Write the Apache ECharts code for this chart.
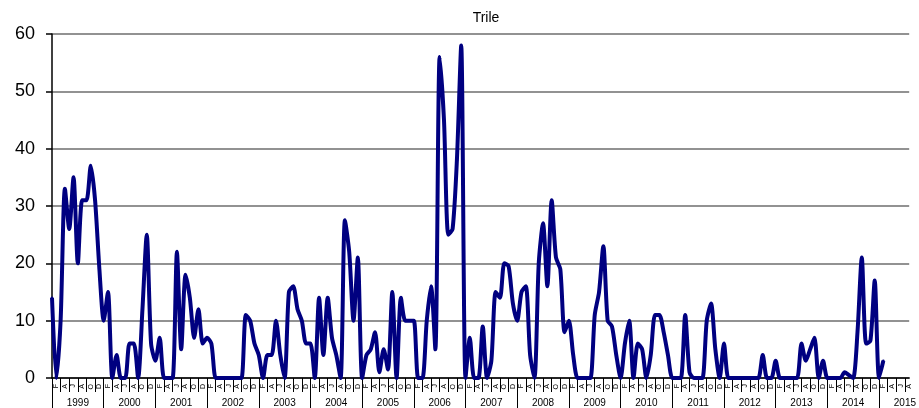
<!DOCTYPE html>
<html>
<head>
<meta charset="utf-8">
<script src="https://cdn.jsdelivr.net/npm/echarts@6/dist/echarts.min.js"></script>
<style>
html,body{margin:0;padding:0;background:#fff;}
#chart{width:919px;height:408px;}
</style>
</head>
<body>
<div id="chart"></div>
<script>
var title = 'Trile';
var years = [1999,2000,2001,2002,2003,2004,2005,2006,2007,2008,2009,2010,2011,2012,2013,2014,2015];
var monthLetters = ['J','F','M','A','M','J','J','A','S','O','N','D'];
var monthsShownIn2015 = 8;
var yTicks = [0,10,20,30,40,50,60];

var v1999 = [14,0,10,33,26,35,20,31,31,37,31,19];
var v2000 = [10,15,0,4,0,0,6,6,0,12,25,6];
var v2001 = [3,7,0,0,0,22,5,18,14,7,12,6];
var v2002 = [7,6,0,0,0,0,0,0,0,11,10,6];
var v2003 = [4,0,4,4,10,4,0,15,16,12,10,6];
var v2004 = [6,0,14,4,14,7,4,0,27.5,22,10,21];
var v2005 = [0,4,5,8,1,5,1.5,15,0,14,10,10];
var v2006 = [10,0,0,10,16,5,56,45,25,26,38,58];
var v2007 = [0,7,0,0,9,0,3,15,14,20,19.5,13];
var v2008 = [10,15,16,4,0,20,27,16,31,21,19,8];
var v2009 = [10,4,0,0,0,0,11,15,23,10,9,4];
var v2010 = [0,6,10,0,6,5,0,4,11,11,8,4];
var v2011 = [0,0,0,11,1,0,0,0,10,13,5,0];
var v2012 = [6,0,0,0,0,0,0,0,0,4,0,0];
var v2013 = [3,0,0,0,0,0,6,3,5,7,0,3];
var v2014 = [0,0,0,0,1,0.5,0,8,21,6,6.5,17];
var v2015 = [0,3];

var yearValues = [v1999,v2000,v2001,v2002,v2003,v2004,v2005,v2006,v2007,v2008,v2009,v2010,v2011,v2012,v2013,v2014,v2015];

var categories = [];
var yearOf = [];
var values = [];
years.forEach(function(y, yi){
  var n = (yi === years.length - 1) ? monthsShownIn2015 : 12;
  for (var m = 0; m < n; m++) {
    categories.push(monthLetters[m]);
    yearOf.push(String(y));
    var arr = yearValues[yi];
    values.push(m < arr.length ? arr[m] : null);
  }
});

var chart = echarts.init(document.getElementById('chart'), null, {renderer:'canvas'});
var font = 'Liberation Sans, Arial, sans-serif';
chart.setOption({
  animation: false,
  title: {
    text: title, left: 481, top: 6, textAlign: 'center',
    textStyle: {fontSize: 14, fontWeight: 'normal', color: '#000', fontFamily: font}
  },
  grid: {left: 52, right: 7, top: 34, bottom: 30, containLabel: false},
  xAxis: [
    {
      type: 'category', data: categories, boundaryGap: false, position: 'bottom',
      axisLine: {show: true, lineStyle: {color: '#000', width: 1.5}},
      axisTick: {show: true, length: 14, interval: function(i){ return i % 2 === 0 && i % 12 !== 0; }, lineStyle: {color: '#000', width: 1}},
      axisLabel: {show: true, interval: function(i){ return i % 2 === 1; }, rotate: 90, margin: 6, fontSize: 7, color: '#000', fontFamily: font},
      splitLine: {show: false}
    },
    {
      type: 'category', data: yearOf, boundaryGap: false, position: 'bottom',
      axisLine: {show: false},
      axisTick: {show: true, length: 30, interval: function(i){ return i % 12 === 0; }, lineStyle: {color: '#000', width: 1}},
      axisLabel: {show: true, interval: function(i){ return i % 12 === 6; }, margin: 20, fontSize: 10, color: '#000', fontFamily: font},
      splitLine: {show: false}
    }
  ],
  yAxis: {
    type: 'value', min: yTicks[0], max: yTicks[yTicks.length-1], interval: 10,
    axisLine: {show: true, lineStyle: {color: '#000', width: 1.5}},
    axisTick: {show: true, length: 6, lineStyle: {color: '#000', width: 1.5}},
    axisLabel: {margin: 17, fontSize: 18, color: '#000', fontFamily: font},
    splitLine: {show: true, lineStyle: {color: '#6e6e6e', width: 1.5}}
  },
  series: [{
    type: 'line', data: values, xAxisIndex: 0,
    smooth: 0.25,
    connectNulls: false,
    symbol: 'circle', symbolSize: 2.5, showSymbol: true,
    lineStyle: {color: '#000080', width: 4},
    itemStyle: {color: '#000080'}
  }]
});
</script>
</body>
</html>
